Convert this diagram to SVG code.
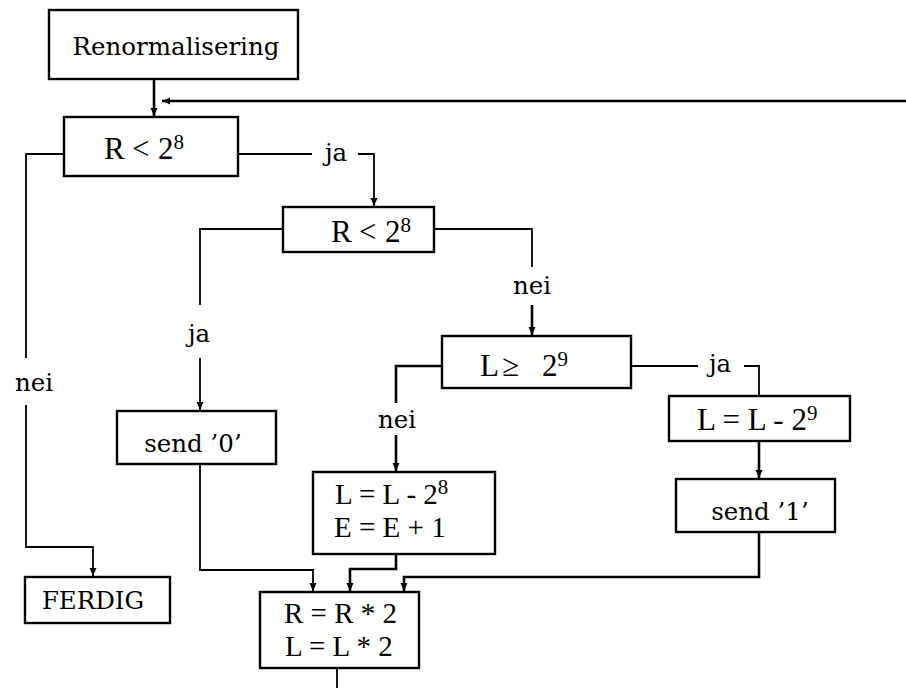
<svg xmlns="http://www.w3.org/2000/svg" width="906" height="688" viewBox="0 0 906 688">
<style>
.box{fill:#fff;stroke:#000;stroke-width:2.4}
.c{fill:none;stroke:#000;stroke-width:1.8}
.ct{fill:none;stroke:#000;stroke-width:2.6}
.t{font-family:"DejaVu Serif","Liberation Serif",serif;font-size:24.5px;fill:#000}
.m{font-family:"Liberation Serif","DejaVu Serif",serif;font-size:31px;fill:#000}
.m2{font-family:"Liberation Serif","DejaVu Serif",serif;font-size:29px;fill:#000}
.sup{font-size:21px}
.mid{text-anchor:middle}
</style>
<defs>
<marker id="ah" markerUnits="userSpaceOnUse" markerWidth="8" markerHeight="8" refX="8" refY="3.5" orient="auto">
<path d="M0,0 L8,3.5 L0,7 z" fill="#000"/>
</marker>
</defs>
<rect width="906" height="688" fill="#fff"/>
<g id="connectors">
<path class="ct" d="M154,79 V116" marker-end="url(#ah)"/>
<path class="ct" d="M906,101 H162" marker-end="url(#ah)"/>
<path class="c" d="M238,154 H312"/>
<path class="c" d="M358,154 H374 V206" marker-end="url(#ah)"/>
<text class="t mid" x="336" y="161">ja</text>
<path class="c" d="M64,154 H26 V358"/>
<path class="c" d="M26,405 V547 H93 V576" marker-end="url(#ah)"/>
<text class="t mid" x="34" y="391">nei</text>
<path class="c" d="M283,229 H200 V305"/>
<path class="c" d="M200,358 V410" marker-end="url(#ah)"/>
<text class="t mid" x="199" y="342">ja</text>
<path class="c" d="M434,229 H532 V267"/>
<path class="ct" d="M532,305 V335" marker-end="url(#ah)"/>
<text class="t mid" x="532" y="294">nei</text>
<path class="ct" d="M442,366 H396 V403"/>
<path class="ct" d="M396,435 V471" marker-end="url(#ah)"/>
<text class="t mid" x="397" y="428">nei</text>
<path class="c" d="M631,366 H698"/>
<path class="c" d="M744,366 H759 V396"/>
<text class="t mid" x="720" y="372">ja</text>
<path class="ct" d="M759,441 V478" marker-end="url(#ah)"/>
<path class="ct" d="M759,532 V577 H404 V591" marker-end="url(#ah)"/>
<path class="c" d="M200,464 V570 H313 V591" marker-end="url(#ah)"/>
<path class="ct" d="M396,554 V569 H350 V591" marker-end="url(#ah)"/>
<path class="c" d="M337,668 V688"/>
</g>
<g id="n_renorm">
<rect class="box" x="49" y="10" width="249" height="69"/>
<text class="t mid" x="176" y="55">Renormalisering</text>
</g>
<g id="n_cond1">
<rect class="box" x="64" y="117" width="174" height="59"/>
<text class="m" x="104" y="159">R <tspan x="132">&lt;</tspan><tspan x="158">2</tspan><tspan class="sup" dy="-10">8</tspan></text>
</g>
<g id="n_cond2">
<rect class="box" x="283" y="207" width="151" height="45"/>
<text class="m" x="331" y="242">R <tspan x="359">&lt;</tspan><tspan x="385">2</tspan><tspan class="sup" dy="-10">8</tspan></text>
</g>
<g id="n_cond3">
<rect class="box" x="442" y="336" width="189" height="52"/>
<text class="m" x="480" y="376">L<tspan x="502">≥</tspan><tspan x="542">2</tspan><tspan class="sup" dy="-10">9</tspan></text>
</g>
<g id="n_send0">
<rect class="box" x="117" y="411" width="159" height="53"/>
<text class="t mid" x="193" y="452">send ’0’</text>
</g>
<g id="n_sub8">
<rect class="box" x="313" y="472" width="182" height="82"/>
<text class="m2"><tspan x="335" y="504">L = L - 2</tspan><tspan class="sup" dy="-10">8</tspan><tspan x="334" y="537">E = E + 1</tspan></text>
</g>
<g id="n_sub9">
<rect class="box" x="669" y="396" width="181" height="45"/>
<text class="m" x="697" y="430">L = L - 2<tspan class="sup" dy="-10">9</tspan></text>
</g>
<g id="n_send1">
<rect class="box" x="676" y="479" width="159" height="53"/>
<text class="t mid" x="760" y="520">send ’1’</text>
</g>
<g id="n_ferdig">
<rect class="box" x="25" y="577" width="145" height="46"/>
<text class="t mid" x="93" y="609">FERDIG</text>
</g>
<g id="n_shift">
<rect class="box" x="260" y="592" width="159" height="76"/>
<text class="m2"><tspan x="284" y="623">R = R * 2</tspan><tspan x="285" y="656">L = L * 2</tspan></text>
</g>
</svg>
